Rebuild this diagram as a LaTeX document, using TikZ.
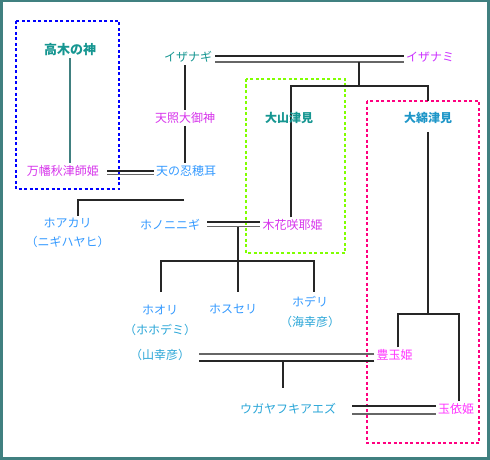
\documentclass[tikz,border=0pt]{standalone}
\usepackage{fontspec}
\setmainfont{Noto Sans CJK JP}
\usetikzlibrary{calc,backgrounds}
\definecolor{framecol}{RGB}{64,128,128}
\definecolor{tealname}{RGB}{22,150,145}
\definecolor{skybold}{RGB}{30,150,200}
\definecolor{bluename}{RGB}{51,153,255}
\definecolor{skyname}{RGB}{40,165,215}
\definecolor{pinkname}{RGB}{214,51,235}
\definecolor{purplename}{RGB}{204,51,255}
\definecolor{rosename}{RGB}{255,51,255}
\definecolor{boxblue}{RGB}{0,0,255}
\definecolor{boxgreen}{RGB}{128,255,0}
\definecolor{boxpink}{RGB}{255,0,128}

\begin{document}
\begin{tikzpicture}[x=1pt, y=-1pt,
    person/.style={inner sep=2pt, align=center, font=\fontsize{12}{20}\selectfont},
    deity/.style={person, text=tealname},
    hime/.style={person, text=pinkname},
    miko/.style={person, text=bluename},
    kin/.style={line width=2pt, black!85},
    kin light/.style={line width=1.8pt, black!60},
    clan/.style={line width=2pt, dash pattern=on 3pt off 2.5pt}]

    \useasboundingbox (0,0) rectangle (490,460);
    \draw [line width=2.5pt, framecol] (1.25,1.25) rectangle (488.5,458.5);

    \node [deity, font=\bfseries\fontsize{13}{13}\selectfont] (takagi) at (70,50) {高木の神};
    \node [hime] (yorozu) at (63,171) {万幡秋津師姫};
    \node [deity] (izanagi) at (188,57) {イザナギ};
    \node [person, text=purplename] (izanami) at (430,57) {イザナミ};
    \node [hime] (amaterasu) at (185,118) {天照大御神};
    \node [miko] (oshiho) at (186,171) {天の忍穂耳};
    \node [deity, font=\bfseries\fontsize{12}{12}\selectfont] (ohyama) at (289,118) {大山津見};
    \node [person, text=skybold, font=\bfseries\fontsize{12}{12}\selectfont] (ohwata) at (428,118) {大綿津見};
    \node [miko, font=\fontsize{12}{19}\selectfont] (hoakari) at (67.5,232.5) {ホアカリ\\（ニギハヤヒ）};
    \node [miko] (ninigi) at (170,225) {ホノニニギ};
    \node [hime] (sakuya) at (292.5,225) {木花咲耶姫};
    \node [miko] (hoori) at (160,332.5) {ホオリ\\\textcolor{skyname}{（ホホデミ）}\\[5pt]\textcolor{skyname}{（山幸彦）}};
    \node [miko] (hosuseri) at (233,309) {ホスセリ};
    \node [miko] (hoderi) at (310,312) {ホデリ\\\textcolor{skyname}{（海幸彦）}};
    \node [person, text=rosename] (toyotama) at (394.5,355) {豊玉姫};
    \node [person, text=skyname] (ugaya) at (288,408.5) {ウガヤフキアエズ};
    \node [person, text=rosename] (tamayori) at (456,408.5) {玉依姫};

    \coordinate (j1l) at (78,200);
    \coordinate (j1r) at (184,200);
    \coordinate (j2) at (359,86);
    \coordinate (j2l) at (291,86);
    \coordinate (j2r) at (428,86);
    \coordinate (j3) at (238,261);
    \coordinate (j3l) at (161,261);
    \coordinate (j3r) at (314,261);
    \coordinate (j4) at (283,388);
    \coordinate (j5l) at (398,314);
    \coordinate (j5r) at (459,314);

    \begin{scope}[on background layer]
        \draw [clan, boxblue] (16,21) rectangle (119,189);
        \draw [clan, boxgreen] (246,79) rectangle (345,253);
        \draw [clan, boxpink] (367,101) coordinate (pinkbox) rectangle (479,443);

        \draw [line width=2pt, framecol] (takagi.south) -- (takagi.south |- yorozu.north);
        \draw [kin] (amaterasu.north) -- (amaterasu.north |- izanagi.south);
        \draw [kin] (amaterasu.south) -- (amaterasu.south |- oshiho.north);

        % 万幡秋津師姫 = 天の忍穂耳
        \draw [kin] ($(yorozu.east)+(6,0)$) coordinate (m1) -- (m1 -| oshiho.west);
        \draw [kin light] ($(m1)+(0,3.5)$) coordinate (m1b) -- (m1b -| oshiho.west);
        \draw [kin] ($(m1b)!0.5!(m1b -| oshiho.west)$) -- ($(m1b)!0.5!(m1b -| oshiho.west)$ |- j1l);
        \draw [kin] (j1r) -- (j1l) -- (j1l |- hoakari.north);

        % イザナギ = イザナミ
        \draw [kin] ($(izanagi.east)+(1,-1)$) coordinate (m2) -- (m2 -| izanami.west);
        \draw [kin light] ($(m2)+(0,6)$) coordinate (m2b) -- (m2b -| izanami.west);
        \draw [kin] (j2 |- m2b) -- (j2);
        \draw [kin] (j2l |- sakuya.north) -- (j2l) -- (j2r) -- (j2r |- pinkbox);
        \draw [kin] ($(ohwata.south)+(0,6)$) -- (ohwata.south |- j5l);
        \draw [kin] (j5l |- toyotama.north) -- (j5l) -- (j5r) -- (j5r |- tamayori.north);

        % ホノニニギ = 木花咲耶姫
        \draw [kin] ($(ninigi.east)+(5,-3)$) coordinate (m3) -- (m3 -| sakuya.west);
        \draw [kin light] ($(m3)+(0,4.5)$) coordinate (m3b) -- (m3b -| sakuya.west);
        \draw [kin] (j3 |- m3b) -- ($(j3)+(0,31)$);
        \draw [kin] ($(j3l)+(0,31)$) -- (j3l) -- (j3r) -- ($(j3r)+(0,31)$);

        % ホオリ = 豊玉姫
        \draw [kin light] ($(toyotama.west)+(0,-1)$) coordinate (m4) -- ($(m4 -| hoori.east)+(1,0)$);
        \draw [kin] ($(m4)+(0,7)$) coordinate (m4b) -- ($(m4b -| hoori.east)+(1,0)$);
        \draw [kin] (j4 |- m4b) -- (j4);

        % ウガヤフキアエズ = 玉依姫
        \draw [kin] ($(tamayori.west)+(0,-2.5)$) coordinate (m5) -- ($(m5 -| ugaya.east)+(14,0)$);
        \draw [kin light] ($(m5)+(0,8)$) coordinate (m5b) -- ($(m5b -| ugaya.east)+(14,0)$);
    \end{scope}
\end{tikzpicture}
\end{document}
